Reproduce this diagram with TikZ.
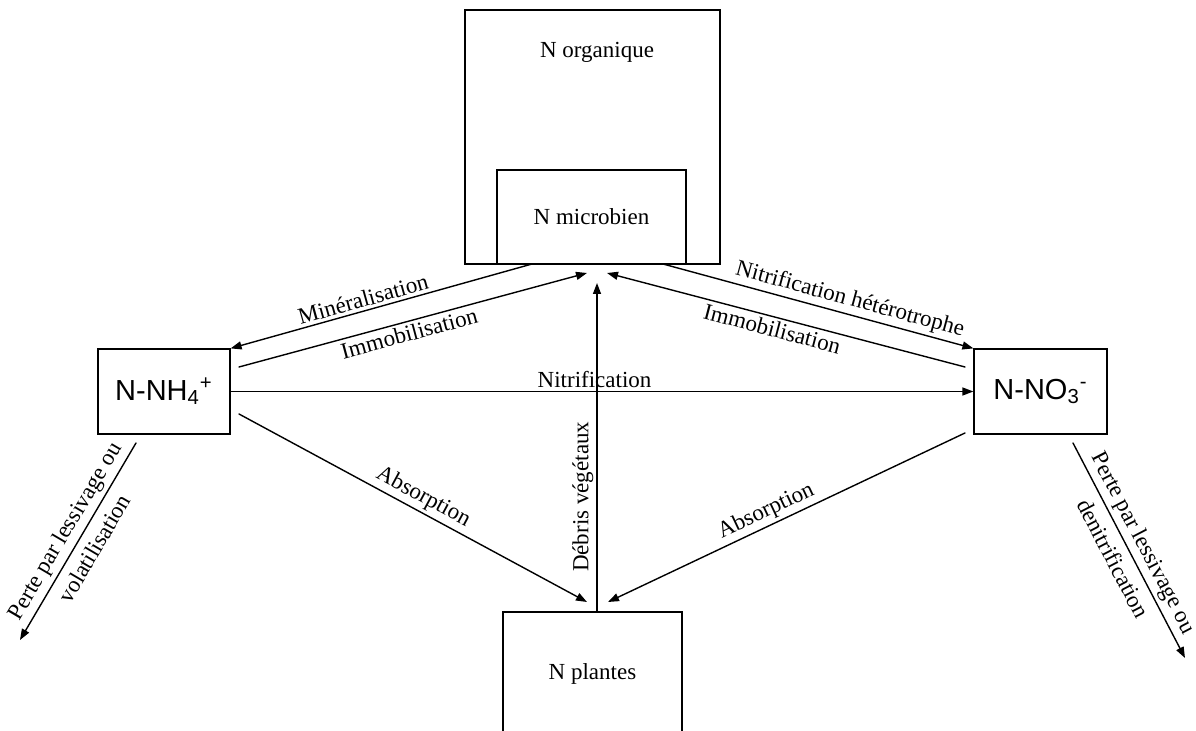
\documentclass[tikz,border=0pt]{standalone}
\usepackage{fontspec}
\setmainfont{Liberation Serif}
\newfontfamily\arialfont{Liberation Sans}
\usepackage{tikz}
\usetikzlibrary{arrows.meta}
\tikzset{
  box/.style={draw=black, line width=0.6pt, inner sep=0pt},
  flow/.style={draw=black, line width=0.7pt, line cap=round, -{Triangle[length=5.5pt,width=4pt]}},
  lab/.style={text=black, font=\fontsize{11.5}{13.5}\selectfont, inner sep=1.5pt},
  ion/.style={text=black, font=\arialfont\fontsize{14.5}{17}\selectfont},
}

\begin{document}
\begin{tikzpicture}[x=0.5pt, y=-0.5pt]
  \clip (0,0) rectangle (1196,731);
  \node[box, minimum width=127.5pt, minimum height=127pt] (org) at (592.5,137) {};
  \node[lab] (orgtxt) at (597,52) {N organique};
  \node[box, lab, minimum width=94.5pt, minimum height=47pt] (mic) at (591.5,217) {N microbien};
  \node[box, ion, minimum width=66pt, minimum height=42.5pt] (nh4) at (164,391.5) {N-NH\textsubscript{4}\textsuperscript{+}};
  \node[box, ion, minimum width=66.5pt, minimum height=42.5pt] (no3) at (1040.5,391.5) {N-NO\textsubscript{3}\textsuperscript{-}};
  \node[box, lab, minimum width=89.5pt, minimum height=62pt] (pla) at (592.5,674) {N plantes};
  \coordinate (minA) at (532,264);
  \coordinate (hetA) at (663,264);
  \coordinate (imL) at (239,367);
  \coordinate (imR) at (965,367);
  \coordinate (hubL) at (587,273);
  \coordinate (hubR) at (607,273);
  \coordinate (hubD) at (597,283);
  \coordinate (debA) at (597,612);
  \coordinate (abL) at (239,414);
  \coordinate (abR) at (965,433);
  \coordinate (plL) at (587,602);
  \coordinate (plR) at (608,602);
  \coordinate (pLa) at (136,443);
  \coordinate (pLb) at (20,640);
  \coordinate (pRa) at (1073,443);
  \coordinate (pRb) at (1185,658);
  \draw[flow] (minA) -- node[lab, sloped, above, pos=0.55] {Minéralisation} (nh4.north east);
  \draw[flow] (imL) -- node[lab, sloped, below, pos=0.48] {Immobilisation} (hubL);
  \draw[flow] (hetA) -- node[lab, sloped, above, pos=0.59] {Nitrification hétérotrophe} (no3.north west);
  \draw[flow] (imR) -- node[lab, sloped, below, pos=0.53] {Immobilisation} (hubR);
  \draw[flow] (nh4.east) -- node[lab, above, pos=0.49] {Nitrification} (no3.west);
  \draw[flow] (abL) -- node[lab, sloped, above, pos=0.51] {Absorption} (plL);
  \draw[flow] (abR) -- node[lab, sloped, above, pos=0.54] {Absorption} (plR);
  \draw[flow] (debA) -- node[lab, sloped, above, pos=0.35] {Débris végétaux} (hubD);
  \draw[flow] (pLa) -- node[lab, sloped, align=center, pos=0.49] {Perte par lessivage ou\\[4pt]volatilisation} (pLb);
  \draw[flow] (pRa) -- node[lab, sloped, align=center, pos=0.5] {Perte par lessivage ou\\[4pt]denitrification} (pRb);
\end{tikzpicture}
\end{document}
